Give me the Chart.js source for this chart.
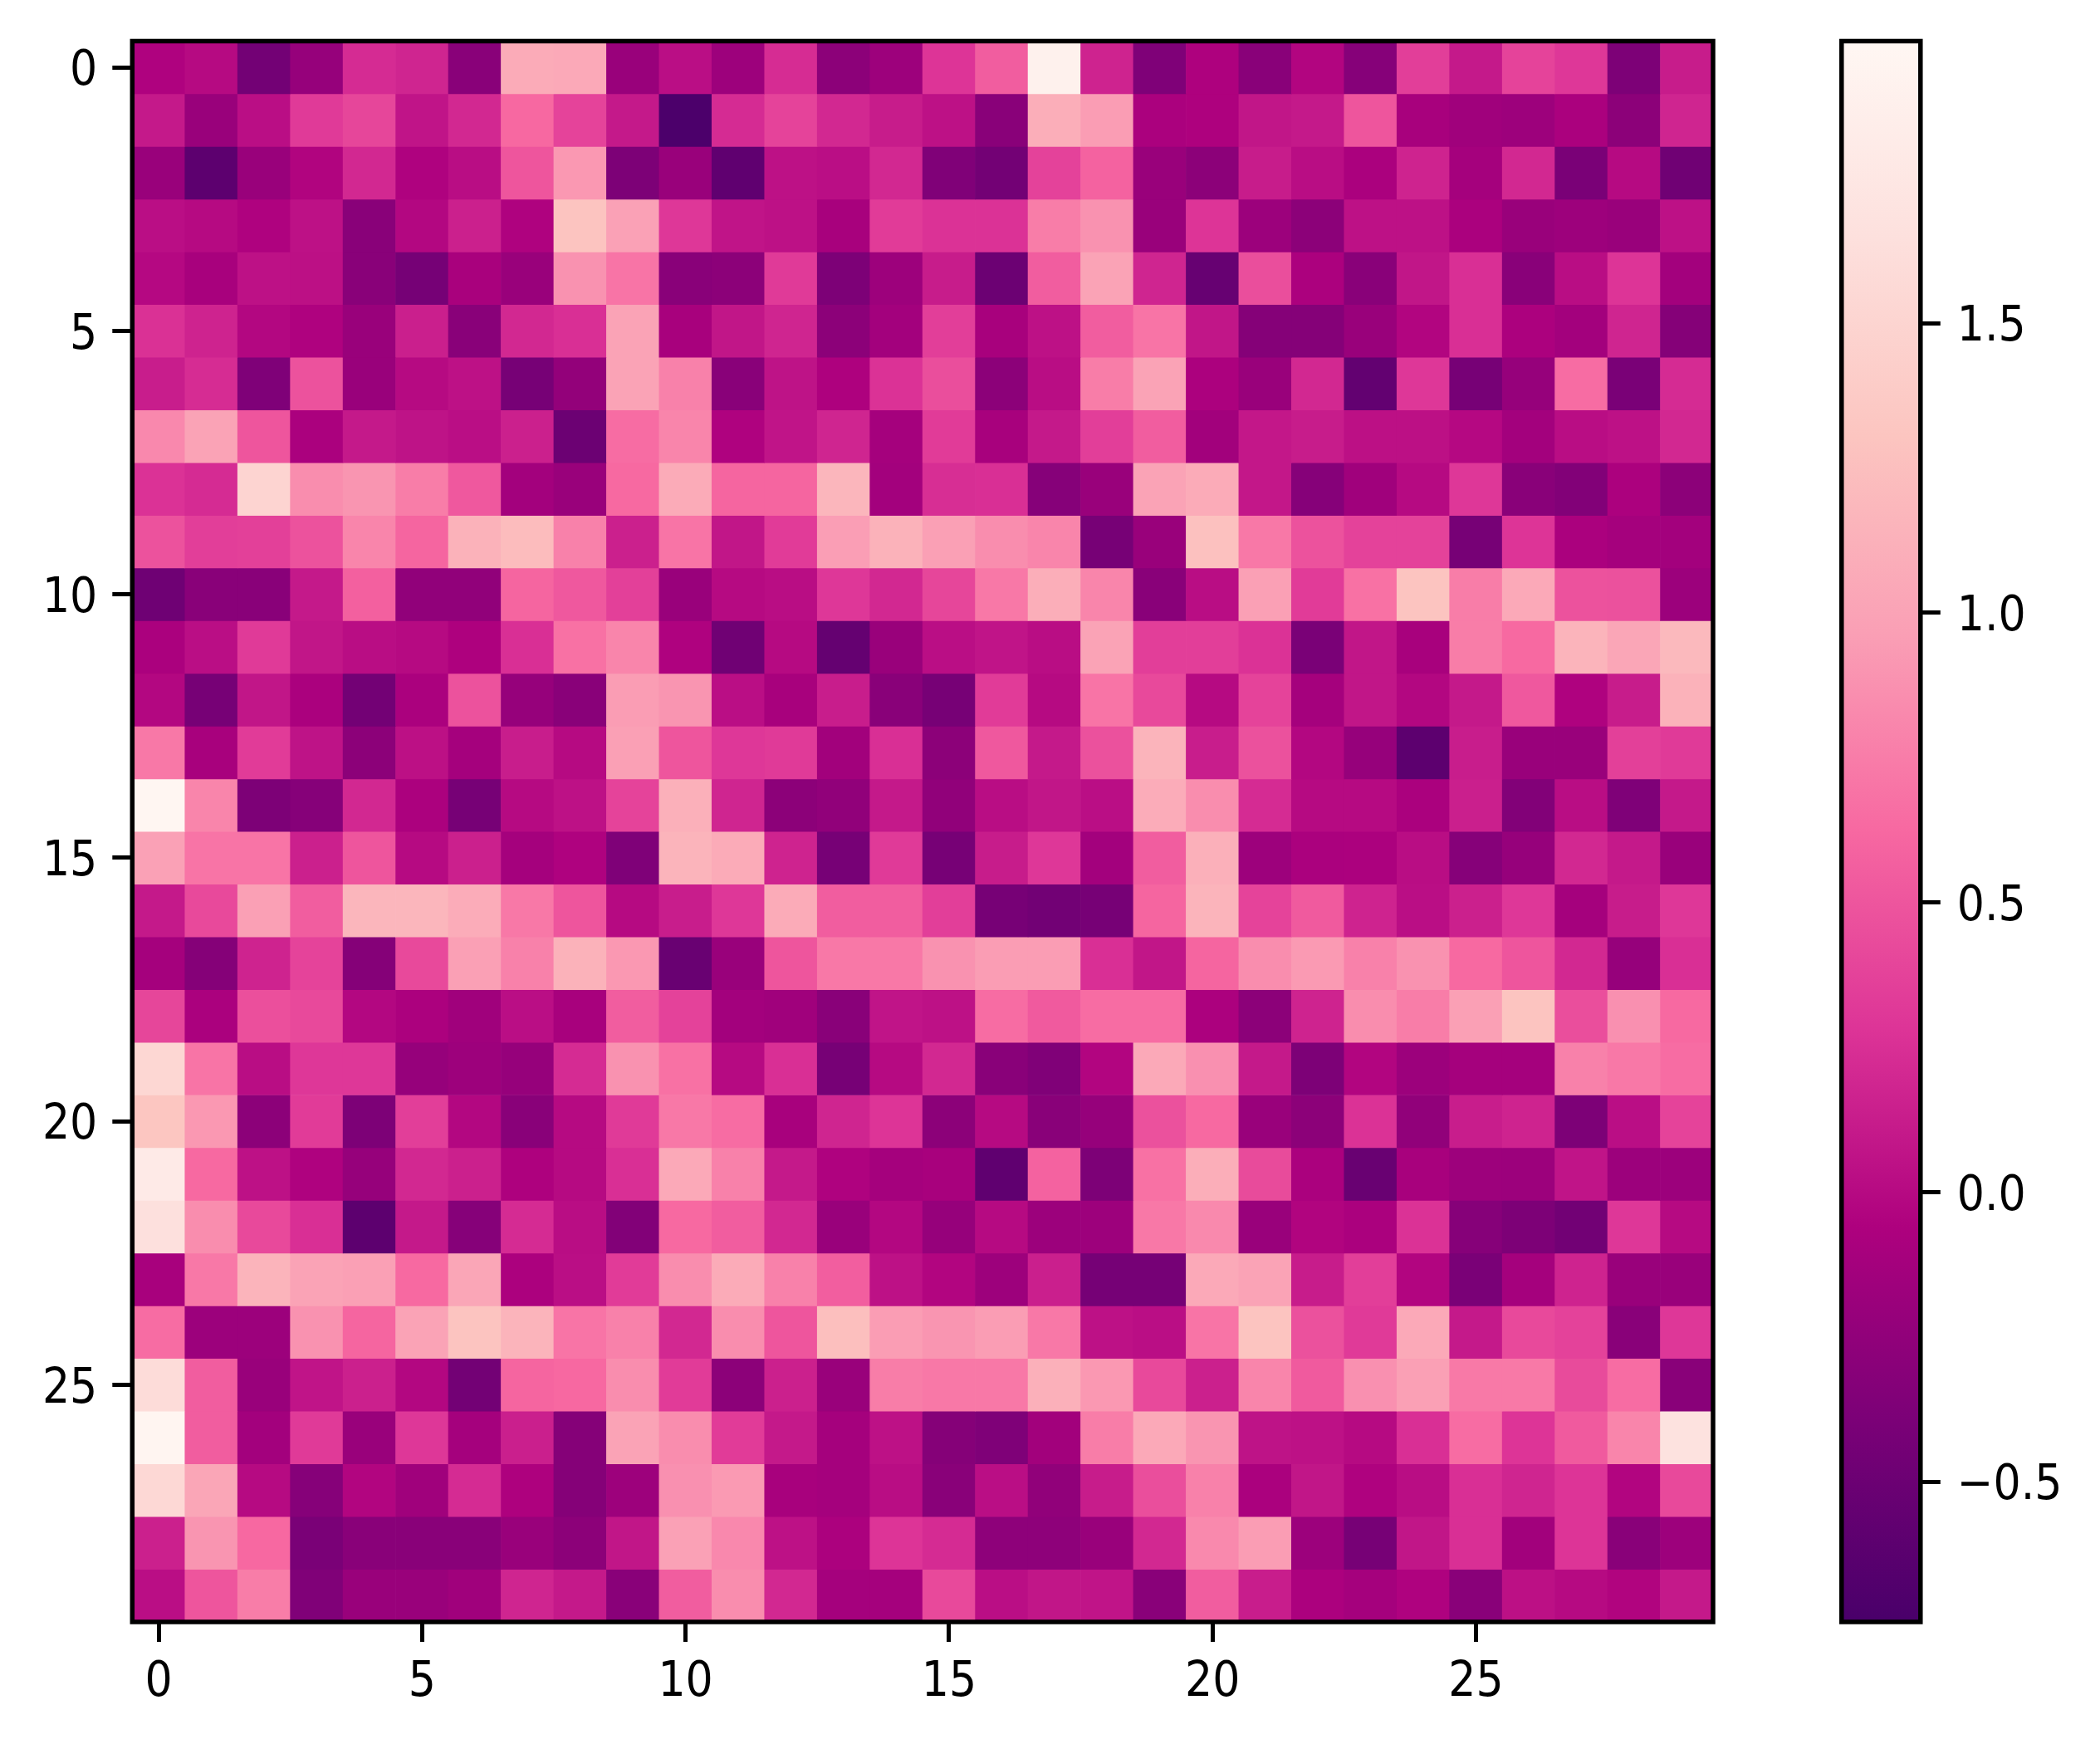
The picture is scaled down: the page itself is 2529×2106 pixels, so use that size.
<!DOCTYPE html>
<html>
<head>
<meta charset="utf-8">
<title>Heatmap</title>
<script src="https://cdn.jsdelivr.net/npm/chart.js@4/dist/chart.umd.min.js"></script>
<style>
    html, body { margin: 0; padding: 0; background: #fff; }
    canvas { position: absolute; left: 0; top: 0; }
</style>
</head>
<body>
<canvas id="heatCanvas" width="2529" height="2106"></canvas>
<canvas id="cbarCanvas" width="2529" height="2106"></canvas>
<script>
// Cell values, one array per image row
const row00 = [-0.05, 0.0, -0.45, -0.22, 0.22, 0.18, -0.3, 1.07, 1.05, -0.2, 0.03, -0.17, 0.23, -0.28, -0.17, 0.28, 0.55, 1.9, 0.17, -0.37, -0.06, -0.3, -0.03, -0.32, 0.35, 0.1, 0.38, 0.3, -0.38, 0.12];
const row01 = [0.1, -0.2, 0.03, 0.32, 0.4, 0.07, 0.2, 0.62, 0.38, 0.1, -0.72, 0.22, 0.38, 0.2, 0.12, 0.05, -0.3, 1.1, 0.95, -0.08, -0.06, 0.08, 0.1, 0.5, -0.1, -0.15, -0.17, -0.08, -0.28, 0.18];
const row02 = [-0.2, -0.6, -0.2, -0.04, 0.2, -0.05, 0.02, 0.5, 0.92, -0.38, -0.2, -0.58, 0.05, 0.03, 0.2, -0.36, -0.45, 0.37, 0.58, -0.2, -0.28, 0.12, 0.02, -0.08, 0.17, -0.12, 0.2, -0.4, 0.0, -0.47];
const row03 = [0.03, 0.0, -0.05, 0.05, -0.3, -0.02, 0.15, -0.05, 1.3, 0.98, 0.3, 0.07, 0.05, -0.1, 0.33, 0.27, 0.27, 0.75, 0.88, -0.2, 0.28, -0.18, -0.28, 0.05, 0.05, -0.08, -0.2, -0.17, -0.2, 0.05];
const row04 = [-0.01, -0.1, 0.05, 0.04, -0.3, -0.43, -0.09, -0.2, 0.88, 0.7, -0.3, -0.28, 0.32, -0.38, -0.17, 0.12, -0.5, 0.55, 1.0, 0.18, -0.53, 0.45, -0.07, -0.3, 0.08, 0.25, -0.3, 0.02, 0.28, -0.13];
const row05 = [0.26, 0.17, -0.02, -0.05, -0.2, 0.14, -0.3, 0.2, 0.25, 1.0, -0.1, 0.08, 0.18, -0.28, -0.13, 0.35, -0.1, 0.05, 0.55, 0.7, 0.08, -0.33, -0.33, -0.2, -0.03, 0.25, -0.07, -0.13, 0.18, -0.33];
const row06 = [0.13, 0.23, -0.37, 0.48, -0.2, 0.0, 0.05, -0.42, -0.24, 1.0, 0.78, -0.3, 0.06, -0.06, 0.27, 0.45, -0.28, 0.02, 0.75, 1.0, -0.07, -0.2, 0.2, -0.56, 0.3, -0.42, -0.22, 0.65, -0.4, 0.22];
const row07 = [0.82, 1.0, 0.5, -0.08, 0.1, 0.06, 0.03, 0.15, -0.5, 0.65, 0.8, -0.05, 0.07, 0.18, -0.12, 0.33, -0.1, 0.1, 0.35, 0.55, -0.14, 0.09, 0.12, 0.04, 0.04, -0.01, -0.13, 0.02, 0.05, 0.2];
const row08 = [0.27, 0.22, 1.5, 0.85, 0.9, 0.75, 0.52, -0.13, -0.2, 0.63, 1.07, 0.6, 0.6, 1.17, -0.13, 0.24, 0.25, -0.32, -0.2, 1.0, 1.07, 0.09, -0.32, -0.15, 0.0, 0.3, -0.3, -0.35, -0.07, -0.28];
const row09 = [0.48, 0.35, 0.36, 0.48, 0.8, 0.6, 1.13, 1.22, 0.78, 0.15, 0.7, 0.08, 0.33, 0.96, 1.13, 0.97, 0.85, 0.8, -0.42, -0.2, 1.27, 0.72, 0.48, 0.37, 0.37, -0.42, 0.28, -0.08, -0.12, -0.13];
const row10 = [-0.48, -0.3, -0.3, 0.1, 0.57, -0.25, -0.25, 0.6, 0.52, 0.36, -0.2, 0.0, 0.02, 0.3, 0.2, 0.4, 0.72, 1.1, 0.8, -0.3, 0.02, 0.97, 0.33, 0.68, 1.3, 0.75, 1.05, 0.48, 0.47, -0.18];
const row11 = [-0.08, 0.03, 0.32, 0.08, 0.02, 0.0, -0.06, 0.25, 0.68, 0.8, -0.05, -0.47, 0.0, -0.55, -0.2, 0.03, 0.07, 0.02, 1.0, 0.35, 0.35, 0.27, -0.4, 0.08, -0.1, 0.75, 0.63, 1.15, 1.03, 1.2];
const row12 = [-0.02, -0.42, 0.08, -0.08, -0.45, -0.08, 0.48, -0.22, -0.3, 0.95, 0.9, 0.03, -0.1, 0.13, -0.3, -0.42, 0.33, 0.0, 0.7, 0.42, 0.0, 0.38, -0.12, 0.08, -0.02, 0.1, 0.52, -0.05, 0.12, 1.13];
const row13 = [0.72, -0.1, 0.33, 0.06, -0.28, 0.04, -0.12, 0.13, 0.0, 0.97, 0.5, 0.3, 0.32, -0.14, 0.25, -0.28, 0.52, 0.1, 0.47, 1.15, 0.13, 0.47, -0.02, -0.22, -0.6, 0.13, -0.2, -0.2, 0.36, 0.32];
const row14 = [1.97, 0.8, -0.38, -0.32, 0.2, -0.07, -0.42, 0.0, 0.05, 0.38, 1.12, 0.18, -0.28, -0.25, 0.1, -0.25, 0.02, 0.08, 0.03, 1.08, 0.85, 0.22, 0.0, 0.0, -0.08, 0.14, -0.35, 0.02, -0.37, 0.1];
const row15 = [0.98, 0.7, 0.7, 0.15, 0.5, 0.0, 0.15, -0.12, -0.05, -0.37, 1.15, 1.07, 0.17, -0.42, 0.32, -0.42, 0.12, 0.3, -0.13, 0.55, 1.12, -0.17, -0.08, -0.07, 0.02, -0.32, -0.22, 0.2, 0.1, -0.2];
const row16 = [0.1, 0.42, 0.97, 0.55, 1.17, 1.17, 1.08, 0.72, 0.5, 0.0, 0.13, 0.3, 1.07, 0.55, 0.55, 0.35, -0.42, -0.46, -0.42, 0.6, 1.15, 0.38, 0.53, 0.17, 0.03, 0.15, 0.3, -0.12, 0.12, 0.3];
const row17 = [-0.12, -0.33, 0.17, 0.38, -0.33, 0.42, 0.97, 0.78, 1.13, 0.92, -0.52, -0.2, 0.5, 0.72, 0.72, 0.88, 0.95, 0.95, 0.25, 0.08, 0.6, 0.85, 0.93, 0.78, 0.88, 0.63, 0.5, 0.2, -0.22, 0.25];
const row18 = [0.4, -0.08, 0.46, 0.42, -0.02, -0.07, -0.15, 0.03, -0.1, 0.55, 0.37, -0.13, -0.15, -0.3, 0.07, 0.05, 0.65, 0.53, 0.65, 0.65, -0.07, -0.28, 0.17, 0.85, 0.75, 0.97, 1.3, 0.45, 0.87, 0.63];
const row19 = [1.53, 0.7, 0.02, 0.3, 0.3, -0.22, -0.17, -0.22, 0.22, 0.88, 0.68, 0.0, 0.25, -0.42, 0.0, 0.2, -0.3, -0.36, -0.03, 1.05, 0.87, 0.1, -0.38, -0.03, -0.18, -0.12, -0.12, 0.78, 0.72, 0.65];
const row20 = [1.32, 0.92, -0.28, 0.33, -0.38, 0.35, -0.02, -0.3, 0.0, 0.32, 0.72, 0.65, -0.1, 0.18, 0.28, -0.28, 0.0, -0.3, -0.22, 0.47, 0.63, -0.2, -0.28, 0.27, -0.25, 0.13, 0.17, -0.38, 0.03, 0.38];
const row21 = [1.8, 0.63, 0.05, -0.05, -0.22, 0.2, 0.15, -0.06, 0.0, 0.25, 1.05, 0.78, 0.1, -0.05, -0.12, -0.1, -0.58, 0.58, -0.38, 0.68, 1.1, 0.43, -0.08, -0.52, -0.1, -0.17, -0.18, 0.07, -0.18, -0.18];
const row22 = [1.65, 0.85, 0.42, 0.25, -0.6, 0.1, -0.32, 0.22, 0.02, -0.35, 0.63, 0.55, 0.2, -0.2, -0.02, -0.22, 0.0, -0.18, -0.17, 0.72, 0.83, -0.2, -0.04, -0.08, 0.27, -0.32, -0.38, -0.46, 0.3, 0.0];
const row23 = [-0.1, 0.72, 1.15, 1.0, 0.97, 0.63, 1.03, -0.07, 0.03, 0.33, 0.85, 1.07, 0.78, 0.56, 0.05, -0.03, -0.17, 0.14, -0.43, -0.43, 1.05, 1.0, 0.12, 0.35, -0.03, -0.4, -0.12, 0.17, -0.2, -0.2];
const row24 = [0.65, -0.18, -0.18, 0.88, 0.6, 1.0, 1.3, 1.15, 0.7, 0.78, 0.2, 0.85, 0.5, 1.25, 0.95, 0.9, 0.95, 0.72, 0.05, 0.03, 0.7, 1.3, 0.47, 0.32, 1.05, 0.1, 0.42, 0.37, -0.3, 0.3];
const row25 = [1.6, 0.55, -0.2, 0.07, 0.15, -0.02, -0.45, 0.6, 0.62, 0.85, 0.33, -0.28, 0.15, -0.2, 0.75, 0.72, 0.72, 1.12, 0.92, 0.42, 0.15, 0.8, 0.53, 0.87, 0.97, 0.73, 0.73, 0.43, 0.65, -0.3];
const row26 = [1.95, 0.55, -0.13, 0.32, -0.2, 0.3, -0.12, 0.14, -0.33, 1.0, 0.85, 0.33, 0.1, -0.12, 0.05, -0.33, -0.37, -0.14, 0.75, 1.05, 0.9, 0.06, 0.05, 0.0, 0.25, 0.65, 0.28, 0.53, 0.8, 1.68];
const row27 = [1.55, 1.03, 0.0, -0.32, -0.03, -0.15, 0.22, -0.06, -0.33, -0.17, 0.87, 0.93, -0.1, -0.12, 0.02, -0.3, 0.03, -0.25, 0.12, 0.45, 0.78, -0.08, 0.08, -0.05, 0.02, 0.25, 0.18, 0.28, -0.03, 0.42];
const row28 = [0.15, 0.9, 0.62, -0.4, -0.3, -0.3, -0.3, -0.2, -0.28, 0.08, 0.98, 0.82, 0.05, -0.07, 0.28, 0.22, -0.27, -0.27, -0.2, 0.2, 0.83, 0.95, -0.18, -0.42, 0.08, 0.25, -0.14, 0.28, -0.3, -0.17];
const row29 = [0.03, 0.5, 0.75, -0.36, -0.2, -0.2, -0.15, 0.18, 0.1, -0.3, 0.55, 0.85, 0.2, -0.12, -0.12, 0.42, 0.03, 0.08, 0.07, -0.3, 0.55, 0.13, -0.07, -0.12, -0.05, -0.3, 0.04, 0.0, -0.04, 0.1];

const heatRows = [row00, row01, row02, row03, row04, row05, row06, row07, row08, row09,
    row10, row11, row12, row13, row14, row15, row16, row17, row18, row19,
    row20, row21, row22, row23, row24, row25, row26, row27, row28, row29];

const xTicks = [0, 5, 10, 15, 20, 25];
const yTicks = [0, 5, 10, 15, 20, 25];
const cbarTicks = [-0.5, 0, 0.5, 1, 1.5];

const vmin = -0.742;
const vmax = 1.987;

// RdPu reversed, dark to light
const palette = ["#49006a", "#7a0177", "#ae017e", "#dd3497", "#f768a1", "#fa9fb5", "#fcc5c0", "#fde0dd", "#fff7f3"];

// lineHeight 1 keeps the label height out of the layout's top margin
const tickFont = { family: "'DejaVu Sans Condensed', 'DejaVu Sans'", size: 58, lineHeight: 1 };
const lineW = 5.5;

function hexToRgb(hex) {
    return [1, 3, 5].map((i) => parseInt(hex.slice(i, i + 2), 16));
}

function valueColor(v) {
    const t = Math.min(1, Math.max(0, (v - vmin) / (vmax - vmin))) * (palette.length - 1);
    const i = Math.min(palette.length - 2, Math.floor(t));
    const a = hexToRgb(palette[i]);
    const b = hexToRgb(palette[i + 1]);
    const c = a.map((x, k) => Math.round(x + (b[k] - x) * (t - i)));
    return `rgb(${c[0]},${c[1]},${c[2]})`;
}

// axes box on all four sides
const framePlugin = {
    id: "frame",
    afterDatasetsDraw(chart) {
        const { ctx, chartArea: a } = chart;
        ctx.save();
        ctx.strokeStyle = "#000";
        ctx.lineWidth = lineW;
        ctx.lineJoin = "miter";
        ctx.strokeRect(a.left, a.top, a.right - a.left, a.bottom - a.top);
        ctx.restore();
    },
};

function axisGrid() {
    return {
        offset: false,
        drawOnChartArea: false,
        drawTicks: true,
        tickLength: 24,
        tickWidth: 5,
        tickColor: "#000",
    };
}

// one floating-bar dataset per row, each cell spans its row index +/- 0.5
const heatDatasets = heatRows.map((row, r) => ({
    data: row.map((v, c) => ({ x: c, y: [r - 0.5, r + 0.5] })),
    backgroundColor: row.map(valueColor),
    borderWidth: 0,
    grouped: false,
    barPercentage: 1,
    categoryPercentage: 1,
}));

new Chart(document.getElementById("heatCanvas"), {
    type: "bar",
    data: { datasets: heatDatasets },
    plugins: [framePlugin],
    options: {
        responsive: false,
        animation: false,
        devicePixelRatio: 1,
        layout: { padding: { top: 49.5, right: 466, left: 0, bottom: 0 } },
        plugins: { legend: { display: false }, title: { display: false } },
        scales: {
            x: {
                type: "linear",
                offset: false,
                min: -0.5,
                max: 29.5,
                afterBuildTicks: (s) => { s.ticks = xTicks.map((v) => ({ value: v })); },
                afterFit: (s) => { s.height = 153; },
                grid: axisGrid(),
                border: { display: false },
                ticks: { color: "#000", font: tickFont, padding: 21, maxRotation: 0, autoSkip: false },
            },
            y: {
                type: "linear",
                reverse: true,
                min: -0.5,
                max: 29.5,
                afterBuildTicks: (s) => { s.ticks = yTicks.map((v) => ({ value: v })); },
                afterFit: (s) => { s.width = 159.3; },
                grid: axisGrid(),
                border: { display: false },
                ticks: { color: "#000", font: tickFont, padding: 18, labelOffset: 6, autoSkip: false },
            },
        },
    },
});

// colour bar: a single floating bar filled with the palette gradient
function cbarFill(context) {
    const { ctx, chartArea } = context.chart;
    if (!chartArea) return palette[0];
    const g = ctx.createLinearGradient(0, chartArea.bottom, 0, chartArea.top);
    palette.forEach((c, i) => g.addColorStop(i / (palette.length - 1), c));
    return g;
}

new Chart(document.getElementById("cbarCanvas"), {
    type: "bar",
    data: {
        labels: [""],
        datasets: [{
            data: [[vmin, vmax]],
            backgroundColor: cbarFill,
            borderWidth: 0,
            barPercentage: 1,
            categoryPercentage: 1,
        }],
    },
    plugins: [framePlugin],
    options: {
        responsive: false,
        animation: false,
        devicePixelRatio: 1,
        layout: { padding: { top: 49.5, right: 0, left: 2217.8, bottom: 153 } },
        plugins: { legend: { display: false }, title: { display: false } },
        scales: {
            x: { display: false },
            y: {
                position: "right",
                min: vmin,
                max: vmax,
                afterBuildTicks: (s) => { s.ticks = cbarTicks.map((v) => ({ value: v })); },
                afterFit: (s) => { s.width = 216.2; },
                grid: axisGrid(),
                border: { display: false },
                ticks: {
                    color: "#000",
                    font: tickFont,
                    padding: 20,
                    labelOffset: 6,
                    autoSkip: false,
                    callback: (v) => (v < 0 ? "\u2212" : "") + Math.abs(v).toFixed(1),
                },
            },
        },
    },
});
</script>
</body>
</html>
